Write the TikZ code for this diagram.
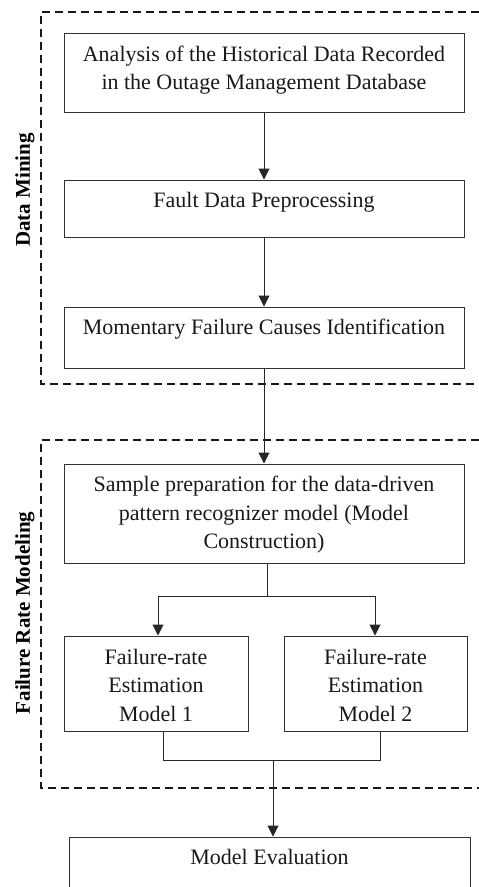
\documentclass[tikz,border=0pt]{standalone}
\usepackage{fontspec}
\setmainfont{Liberation Serif}
\usetikzlibrary{arrows.meta}
\begin{document}
\begin{tikzpicture}[x=1pt,y=-1pt,
  box/.style={draw=black!80,line width=1pt,rectangle,inner sep=0pt},
  txt/.style={align=center,inner sep=0pt,font=\fontsize{22}{28.5}\selectfont,text=black!90},
  lbl/.style={rotate=90,inner sep=0pt,font=\fontsize{21}{24}\selectfont\bfseries},
  region/.style={dash pattern=on 8pt off 5pt,line width=1.4pt,black!90},
  conn/.style={line width=1pt,black!85},
  arr/.style={conn,-{Triangle[length=11pt,width=11pt]}}]
\useasboundingbox (0,0) rectangle (479,887);
\clip (0,0) rectangle (479,887);
% regions
\coordinate (r1a) at (479,12);
\coordinate (r1b) at (41,12);
\coordinate (r1c) at (41,384);
\coordinate (r1d) at (479,384);
\draw[region] (r1a) -- (r1b) -- (r1c) -- (r1d);
\coordinate (r2a) at (479,440);
\coordinate (r2b) at (41,440);
\coordinate (r2c) at (41,788);
\coordinate (r2d) at (479,788);
\draw[region] (r2a) -- (r2b) -- (r2c) -- (r2d);
\node[lbl] (l1) at (25,190) {Data Mining};
\node[lbl] (l2) at (25,613) {Failure Rate Modeling};
% boxes
\node[box,minimum width=400pt,minimum height=79pt] (b1) at (264,72.5) {};
\node[txt] (t1) at (264,70) {Analysis of the Historical Data Recorded\\in the Outage Management Database};
\node[box,minimum width=400pt,minimum height=57pt] (b2) at (264,208.5) {};
\node[txt] (t2) at (264,202) {Fault Data Preprocessing};
\node[box,minimum width=400pt,minimum height=61pt] (b3) at (264,337.5) {};
\node[txt] (t3) at (264,329) {Momentary Failure Causes Identification};
\node[box,minimum width=400pt,minimum height=99pt] (b4) at (264,513.5) {};
\node[txt] (t4) at (264,515) {Sample preparation for the data-driven\\pattern recognizer model (Model\\Construction)};
\node[box,minimum width=184pt,minimum height=95pt] (b5) at (156,683.5) {};
\node[txt] (t5) at (156,685) {Failure-rate\\Estimation\\Model 1};
\node[box,minimum width=183pt,minimum height=95pt] (b6) at (375.5,683.5) {};
\node[txt] (t6) at (375.5,685) {Failure-rate\\Estimation\\Model 2};
\node[box,minimum width=401pt,minimum height=80pt] (b7) at (269.5,877) {};
\node[txt] (t7) at (269.5,857) {Model Evaluation};
% connectors
\draw[arr] (b1.south) -- (b2.north);
\draw[arr] (b2.south) -- (b3.north);
\draw[arr] (b3.south) -- (b4.north);
\coordinate (s1) at (267,596);
\coordinate (s2) at (158,596);
\coordinate (s3) at (375,596);
\draw[conn] (b4.south -| s1) -- (s1);
\draw[conn] (s2) -- (s3);
\draw[arr] (s2) -- (s2 |- b5.north);
\draw[arr] (s3) -- (s3 |- b6.north);
\coordinate (m1) at (163,760);
\coordinate (m2) at (380,760);
\coordinate (m3) at (273,760);
\draw[conn] (m1 |- b5.south) -- (m1) -- (m2) -- (m2 |- b6.south);
\draw[arr] (m3) -- (m3 |- b7.north);
\end{tikzpicture}
\end{document}
